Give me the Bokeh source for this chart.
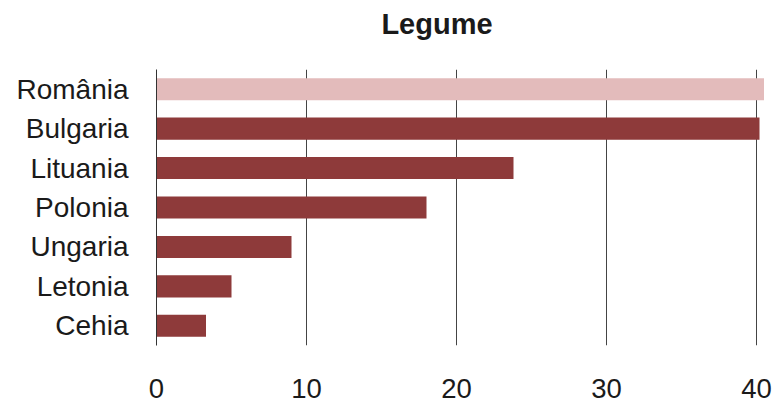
from bokeh.plotting import figure
from bokeh.models import FactorRange, ColumnDataSource, LinearAxis, FixedTicker
from bokeh.embed import file_html
from bokeh.resources import INLINE

countries = ["România", "Bulgaria", "Lituania", "Polonia", "Ungaria", "Letonia", "Cehia"]
values = [40.5, 40.2, 23.8, 18.0, 9.0, 5.0, 3.3]
colors = ["#E3BBBB", "#8E3A3A", "#8E3A3A", "#8E3A3A", "#8E3A3A", "#8E3A3A", "#8E3A3A"]
x_ticks = [0, 10, 20, 30, 40]
title_text = "Legume"

FONT = "Liberation Sans"
TITLE_POS = 18.7  # horizontal anchor of the title, in axis units

src = ColumnDataSource(dict(country=countries, value=values, color=colors))

p = figure(width=776, height=402, output_backend="svg", toolbar_location=None,
           y_range=FactorRange(factors=list(reversed(countries)), range_padding=0),
           x_range=(0, 41), min_border_left=156, min_border_right=5,
           min_border_top=69, min_border_bottom=57, title=None)

p.hbar(y="country", right="value", height=0.56, left=0, color="color", line_color=None, source=src)

# title drawn as the single label of an axis placed above the frame
title_axis = LinearAxis(ticker=FixedTicker(ticks=[TITLE_POS]),
                        major_label_overrides={TITLE_POS: title_text},
                        axis_line_color=None, major_tick_line_color=None,
                        minor_tick_line_color=None, major_tick_in=0, major_tick_out=0,
                        major_label_standoff=30, major_label_text_font=FONT,
                        major_label_text_font_size="29px", major_label_text_font_style="bold",
                        major_label_text_color="#1a1a1a")
p.add_layout(title_axis, "above")

p.outline_line_color = None
p.background_fill_color = "white"
p.border_fill_color = "white"

xa = p.below[0]
xa.ticker = FixedTicker(ticks=x_ticks)
xa.axis_line_color = None
xa.major_tick_line_color = None
xa.minor_tick_line_color = None
xa.major_label_standoff = 27
xa.major_label_text_font = FONT
xa.major_label_text_font_size = "27.5px"
xa.major_label_text_color = "#1a1a1a"

p.yaxis.axis_line_color = "#333333"
p.yaxis.major_tick_line_color = None
p.yaxis.minor_tick_line_color = None
p.yaxis.major_label_standoff = 22
p.yaxis.major_label_text_font = FONT
p.yaxis.major_label_text_font_size = "28px"
p.yaxis.major_label_text_color = "#1a1a1a"

p.xgrid.ticker = FixedTicker(ticks=x_ticks)
p.xgrid.grid_line_color = "#444444"
p.xgrid.grid_line_width = 1
p.ygrid.grid_line_color = None

open("out.html", "w").write(file_html(p, INLINE))
